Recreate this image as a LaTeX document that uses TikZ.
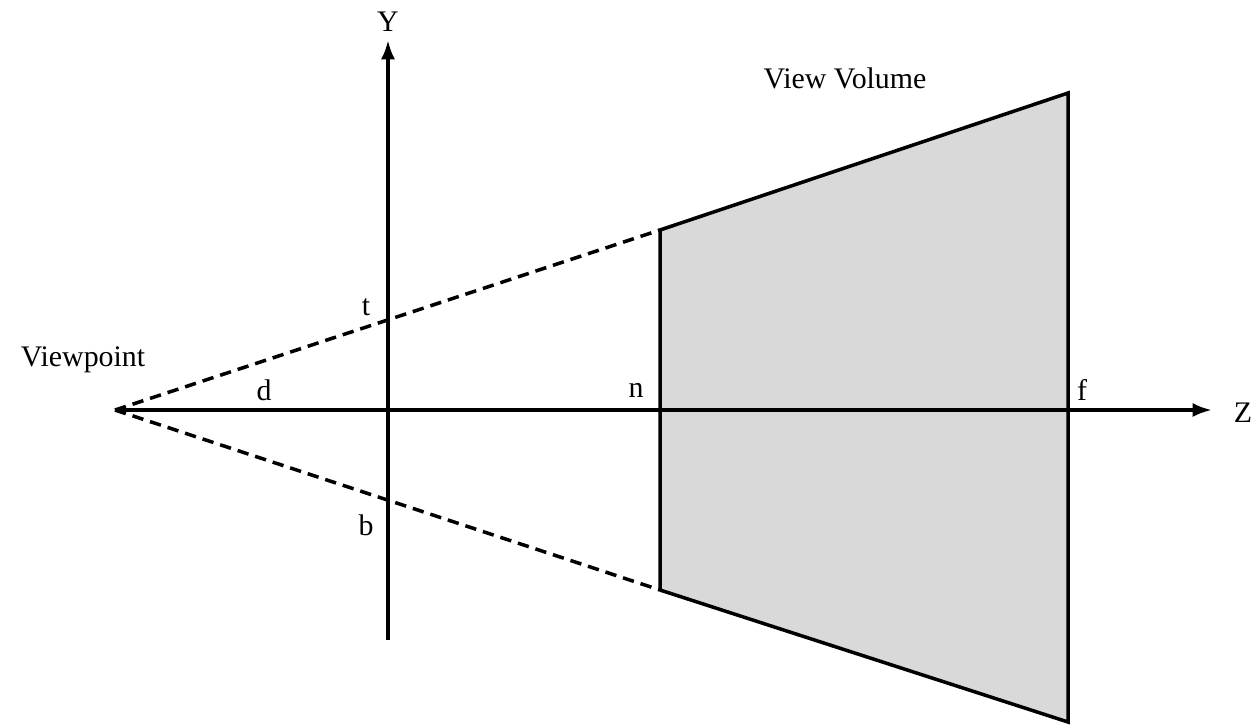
\documentclass[tikz,border=0pt]{standalone}
\usepackage{fontspec}
\setmainfont{Liberation Serif}
\usetikzlibrary{arrows.meta}

\begin{document}
\begin{tikzpicture}[
    x=0.02cm, y=-0.02cm,
    every node/.style={font=\fontsize{17}{20}\selectfont},
    edge/.style={line width=2pt},
    ray/.style={line width=2pt, dash pattern=on 6.5pt off 4pt},
    axis/.style={line width=2pt, -{Latex[length=11pt,width=8pt]}}
]
\useasboundingbox (0,0) rectangle (1257,725);

% Corners of the view volume
\coordinate (vp) at (115,410);
\coordinate (nt) at (660,230);
\coordinate (nb) at (660,590);
\coordinate (ft) at (1068,93);
\coordinate (fb) at (1068,722);

% Shaded frustum
\fill[black!15] (nt) -- (ft) -- (fb) -- (nb) -- cycle;
\draw[edge] (nb) -- (nt) -- (ft) -- (fb) -- (nb);

% Rays from the viewpoint
\draw[ray] (vp) -- (nt);
\draw[ray] (vp) -- (nb);

% Axes
\coordinate (ybot) at (388,640);
\coordinate (ytop) at (388,40);
\coordinate (zend) at (1212,410);
\draw[axis] (ybot) -- (ytop);
\draw[axis] (vp) -- (zend);

% Labels
\node (Y) at (388,22) {Y};
\node (Z) at (1243,413) {Z};
\node (t) at (366,307) {t};
\node (b) at (366,525) {b};
\node (d) at (264,390) {d};
\node (n) at (636,390) {n};
\node (f) at (1082,390) {f};
\node (vplabel) at (83,360) {Viewpoint};
\node (vvlabel) at (845,78) {View Volume};

\end{tikzpicture}
\end{document}
